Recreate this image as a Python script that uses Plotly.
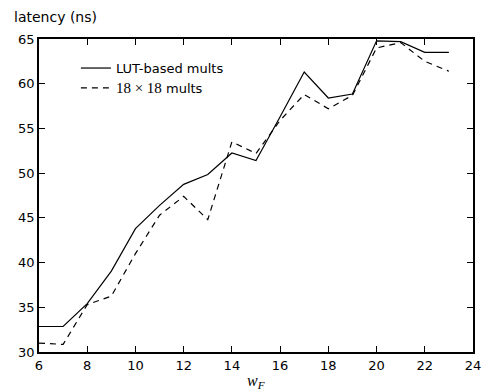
import plotly.graph_objects as go

w_f = [6, 7, 8, 9, 10, 11, 12, 13, 14, 15, 16, 17, 18, 19, 20, 21, 22, 23]
lut_based = [32.85, 32.85, 35.4, 39.05, 43.8, 46.4, 48.75, 49.85, 52.25, 51.4, 56.3, 61.3, 58.4, 58.85, 64.8, 64.7, 63.5, 63.5]
mult_18x18 = [31.0, 30.85, 35.3, 36.25, 41.0, 45.3, 47.4, 44.8, 53.5, 52.2, 55.9, 58.8, 57.2, 58.7, 64.0, 64.6, 62.5, 61.4]

x_ticks = [6, 8, 10, 12, 14, 16, 18, 20, 22, 24]
y_ticks = [30, 35, 40, 45, 50, 55, 60, 65]

FONT = "DejaVu Sans"

fig = go.Figure()
fig.add_trace(go.Scatter(x=w_f, y=lut_based, mode="lines", name="LUT-based mults",
                         line=dict(color="black", width=1.2, dash="solid")))
fig.add_trace(go.Scatter(x=w_f, y=mult_18x18, mode="lines",
                         name="<span style='font-family:Liberation Serif;font-size:15px'>18 × 18</span> mults",
                         line=dict(color="black", width=1.2, dash="6px,5px")))

axis_common = dict(showline=True, linecolor="black", linewidth=1.8, mirror="allticks",
                   ticks="inside", ticklen=6, tickwidth=1.3, tickcolor="black",
                   showgrid=False, zeroline=False,
                   tickfont=dict(family=FONT, size=13, color="black"))

fig.update_layout(
    width=483, height=384,
    margin=dict(l=30, r=10, t=31, b=40),
    plot_bgcolor="white", paper_bgcolor="white",
    font=dict(family=FONT, size=13, color="black"),
    xaxis=dict(range=[6, 24], tickvals=x_ticks, **axis_common),
    yaxis=dict(range=[30, 65], tickvals=y_ticks, **axis_common),
    showlegend=True,
    legend=dict(x=0.085, y=0.955, xanchor="left", yanchor="top", bgcolor="rgba(0,0,0,0)",
                font=dict(family=FONT, size=13), tracegroupgap=0, itemwidth=30),
    annotations=[
        dict(text="latency (ns)", xref="paper", yref="paper", x=-28/443, y=(352-7)/313,
             xanchor="left", yanchor="top", showarrow=False,
             font=dict(family=FONT, size=14, color="black")),
        dict(text="<i>w</i><sub><i>F</i></sub>", xref="paper", yref="paper", x=0.5, y=-18/313,
             xanchor="center", yanchor="top", showarrow=False,
             font=dict(family="Liberation Serif", size=16, color="black")),
    ],
)

fig.write_html("out.html")
